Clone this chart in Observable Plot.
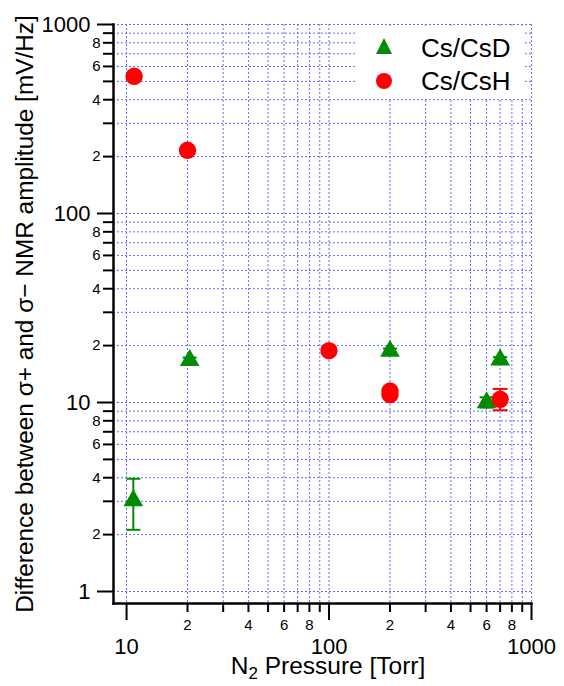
<!DOCTYPE html>
<html><head><meta charset="utf-8">
<script src="https://cdn.jsdelivr.net/npm/d3@7"></script>
<script src="https://cdn.jsdelivr.net/npm/@observablehq/plot@0.6"></script>
<style>
body{margin:0;background:#fff;font-family:"Liberation Sans",Arial,Helvetica,sans-serif;}
#wrap{position:relative;width:564px;height:686px;background:#fff;}
#legend{position:absolute;left:356px;top:28px;width:167px;height:71px;background:#fff;}
.lg-item{position:absolute;left:0;height:30px;font-size:26px;line-height:26px;color:#000;}
.lg-item svg{position:absolute;left:19px;}
.lg-item span{position:absolute;left:65px;white-space:nowrap;}
#xtitle{position:absolute;left:0;width:656px;top:659px;text-align:center;font-size:24.5px;line-height:14px;color:#000;white-space:nowrap;}
#xtitle sub{font-size:17px;line-height:0;vertical-align:-5px;}
</style></head><body><div id="wrap"></div>
<script>
// Cs/CsD series (green triangles)
const csdPressure  = [10.8, 20.5, 200, 600, 700];
const csdAmplitude = [3.03, 16.7, 18.7, 10.0, 16.8];
const csdLow       = [2.12, 16.2, 18.2, 9.4, 16.2];
const csdHigh      = [3.95, 17.3, 19.3, 10.65, 17.4];
// Cs/CsH series (red circles)
const cshPressure  = [10.9, 20, 100, 200, 200, 700];
const cshAmplitude = [532, 216, 18.8, 11.5, 11.0, 10.4];
const cshLow       = [null, null, null, null, null, 9.1];
const cshHigh      = [null, null, null, null, null, 11.8];
// ticks
const xMajorTicks = [10, 100, 1000];
const xMinorTicks = [20,30,40,50,60,70,80,90,200,300,400,500,600,700,800,900];
const yMajorTicks = [1, 10, 100, 1000];
const yMinorTicks = [2,3,4,5,6,7,8,9,20,30,40,50,60,70,80,90,200,300,400,500,600,700,800,900];
const minorLabelDigits = [2, 4, 6, 8];
const seriesNames = ["Cs/CsD", "Cs/CsH"];
const seriesColors = ["#008c00", "#ff0000"];
const yTitle = "Difference between σ+ and σ− NMR amplitude [mV/Hz]";

const csd = csdPressure.map((p, i) => ({p, a: csdAmplitude[i], lo: csdLow[i], hi: csdHigh[i]}));
const csh = cshPressure.map((p, i) => ({p, a: cshAmplitude[i], lo: cshLow[i], hi: cshHigh[i]}));
const cshErr = csh.filter(d => d.lo != null);

const cap = {draw(ctx, size) { const w = Math.sqrt(size / Math.PI); ctx.moveTo(-w, 0); ctx.lineTo(w, 0); }};
const minorFmt = v => {
  const m = Math.round(v / Math.pow(10, Math.floor(Math.log10(v) + 1e-9)));
  return minorLabelDigits.includes(m) ? String(m) : "";
};
const xMinorLabeled = xMinorTicks.filter(v => minorFmt(v) !== "");
const yMinorLabeled = yMinorTicks.filter(v => minorFmt(v) !== "");
const blank = () => "";
const gridStyle = {stroke: "#6a6aff", strokeOpacity: 1, strokeDasharray: "2,2", strokeWidth: 1};
const xGrid = [...xMajorTicks, ...xMinorTicks];
const yGrid = [...yMajorTicks, ...yMinorTicks];

const chart = Plot.plot({
  width: 564, height: 686,
  marginLeft: 113, marginRight: 33, marginTop: 24, marginBottom: 83,
  style: {fontFamily: '"Liberation Sans", Arial, Helvetica, sans-serif', color: "#000", background: "#fff", overflow: "visible"},
  x: {type: "log", domain: [8.62, 1000]},
  y: {type: "log", domain: [0.864, 1000]},
  marks: [
    Plot.gridX(xGrid, gridStyle),
    Plot.gridY(yGrid, gridStyle),
    // tick marks
    Plot.axisX(xMinorTicks, {anchor: "bottom", tickSize: 9, strokeWidth: 2, tickFormat: blank, label: null}),
    Plot.axisX(xMajorTicks, {anchor: "bottom", tickSize: 17, strokeWidth: 2, tickFormat: blank, label: null}),
    Plot.axisY(yMinorTicks, {anchor: "left", tickSize: 10, strokeWidth: 2, tickFormat: blank, label: null}),
    Plot.axisY(yMajorTicks, {anchor: "left", tickSize: 16, strokeWidth: 2, tickFormat: blank, label: null}),
    // tick labels
    Plot.text(xMinorLabeled, {x: d => d, text: minorFmt, frameAnchor: "bottom", dy: 22, fontSize: 15, lineAnchor: "middle", fill: "#000"}),
    Plot.text(xMajorTicks, {x: d => d, text: d => String(d), frameAnchor: "bottom", dy: 43, fontSize: 22, lineAnchor: "middle", fill: "#000"}),
    Plot.text(yMinorLabeled, {y: d => d, text: minorFmt, frameAnchor: "left", dx: -13, textAnchor: "end", fontSize: 15, lineAnchor: "middle", fill: "#000"}),
    Plot.text(yMajorTicks, {y: d => d, text: d => String(d), frameAnchor: "left", dx: -23, textAnchor: "end", fontSize: 22, lineAnchor: "middle", fill: "#000"}),
    Plot.frame({anchor: "left", stroke: "#000", strokeWidth: 2.5}),
    Plot.frame({anchor: "bottom", stroke: "#000", strokeWidth: 2.5}),
    Plot.text([yTitle], {frameAnchor: "left", dx: -88, rotate: -90, fontSize: 24.4, fill: "#000", lineAnchor: "middle", textAnchor: "middle"}),
    // green error bars + triangles
    Plot.ruleX(csd, {x: "p", y1: "lo", y2: "hi", stroke: seriesColors[0], strokeWidth: 2}),
    Plot.dot(csd, {x: "p", y: "lo", symbol: cap, r: 7, stroke: seriesColors[0], fill: "none", strokeWidth: 2}),
    Plot.dot(csd, {x: "p", y: "hi", symbol: cap, r: 7, stroke: seriesColors[0], fill: "none", strokeWidth: 2}),
    Plot.dot(csd, {x: "p", y: "a", symbol: "triangle", r: 7.3, fill: seriesColors[0], stroke: "none"}),
    // red error bars + circles
    Plot.ruleX(cshErr, {x: "p", y1: "lo", y2: "hi", stroke: seriesColors[1], strokeWidth: 2}),
    Plot.dot(cshErr, {x: "p", y: "lo", symbol: cap, r: 7.5, stroke: seriesColors[1], fill: "none", strokeWidth: 2}),
    Plot.dot(cshErr, {x: "p", y: "hi", symbol: cap, r: 7.5, stroke: seriesColors[1], fill: "none", strokeWidth: 2}),
    Plot.dot(csh, {x: "p", y: "a", r: 8.7, fill: seriesColors[1], stroke: "none"})
  ]
});
const wrap = document.getElementById("wrap");
wrap.appendChild(chart);

// legend
const legend = document.createElement("div");
legend.id = "legend";
const symbols = [
  `<svg width="18" height="18" viewBox="-9 -9 18 18" style="top:2px"><path d="M0,-8L8,8L-8,8Z" fill="${seriesColors[0]}"/></svg>`,
  `<svg width="18" height="18" viewBox="-9 -9 18 18" style="top:4px"><circle r="8" fill="${seriesColors[1]}"/></svg>`
];
seriesNames.forEach((name, i) => {
  const item = document.createElement("div");
  item.className = "lg-item";
  item.style.top = (i === 0 ? 7 : 40) + "px";
  item.innerHTML = symbols[i] + `<span>${name}</span>`;
  legend.appendChild(item);
});
wrap.appendChild(legend);

const xt = document.createElement("div");
xt.id = "xtitle";
xt.innerHTML = "N<sub>2</sub> Pressure [Torr]";
wrap.appendChild(xt);
</script>
</body></html>
